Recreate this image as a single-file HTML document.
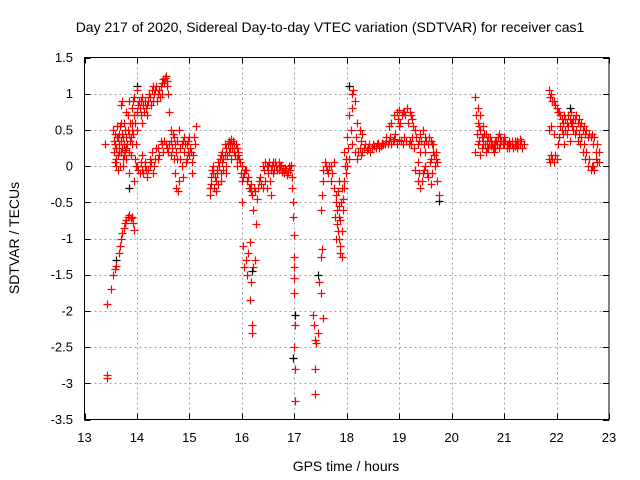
<!DOCTYPE html>
<html><head><meta charset="utf-8"><style>
html,body{margin:0;padding:0;background:#fff;}
svg{display:block;font-family:"Liberation Sans",sans-serif;}
</style></head><body>
<svg id="chart" width="640" height="480" viewBox="0 0 640 480">
<text x="330" y="32" text-anchor="middle" font-size="14">Day 217 of 2020, Sidereal Day-to-day VTEC variation (SDTVAR) for receiver cas1</text>
<g id="grid"></g>
<g id="ticks"></g>
<g id="marks"></g>
<rect x="84.5" y="57.5" width="524.5" height="362" fill="none" stroke="#000" stroke-width="1"/>
<text x="346" y="471" text-anchor="middle" font-size="14">GPS time / hours</text>
<text transform="translate(19,238) rotate(-90)" text-anchor="middle" font-size="14">SDTVAR / TECUs</text>
</svg>
<script>
const xTicks = [13,14,15,16,17,18,19,20,21,22,23];
const yTicks = [1.5,1,0.5,0,-0.5,-1,-1.5,-2,-2.5,-3,-3.5];
const yTickLabels = ["1.5","1","0.5","0","-0.5","-1","-1.5","-2","-2.5","-3","-3.5"];
const redPoints = [
[13.4,0.3],[13.42,-1.9],[13.42,-2.88],[13.43,-2.92],
[13.5,-1.7],[13.55,-1.5],[13.58,-1.42],[13.6,-1.38],[13.65,-1.2],[13.68,-1.1],[13.7,-1.0],[13.72,-0.92],[13.75,-0.85],[13.78,-0.78],[13.8,-0.75],[13.83,-0.7],[13.85,-0.68],[13.88,-0.72],[13.9,-0.7],[13.93,-0.78],[13.95,-0.88],
[13.55,0.5],[13.58,0.3],[13.6,0.1],[13.62,0.4],[13.65,0.2],[13.68,0.0],[13.7,0.6],[13.72,0.9],[13.75,0.3],[13.78,0.5],[13.8,0.1],[13.82,0.7],[13.85,0.2],[13.88,0.4],[13.9,0.8],[13.92,0.9],[13.95,-0.2],[13.98,0.3],[14.0,0.5],[13.6,0.0],[13.65,0.45],[13.7,0.35],[13.75,0.15],[13.8,0.4],[13.85,-0.1],[13.9,0.6],[13.95,0.95],[13.7,0.85],[13.72,0.25],[13.85,0.9],[13.9,0.3],[13.6,0.25],[13.67,0.55],[13.77,0.22],[13.83,0.5],[13.93,0.45],[13.63,-0.05],[13.57,0.35],
[13.56,0.2],[13.59,0.45],[13.61,0.25],[13.63,0.15],[13.64,0.4],[13.66,0.3],[13.69,0.2],[13.71,0.45],[13.73,0.1],[13.74,0.4],[13.76,0.6],[13.79,0.25],[13.81,0.3],[13.84,0.45],[13.86,0.35],[13.87,0.6],[13.89,0.15],[13.91,0.5],[13.94,0.7],[13.96,0.1],[13.97,0.6],[13.99,0.0],[13.62,0.55],[13.74,0.0],[13.79,0.75],[13.58,0.05],
[14.0,0.75],[14.05,0.8],[14.1,0.95],[14.15,0.9],[14.2,0.85],[14.25,0.95],[14.3,1.1],[14.35,1.05],[14.4,1.0],[14.45,1.1],[14.5,1.2],[14.55,1.25],[14.6,1.0],[14.62,0.75],[14.65,0.5],[14.0,1.05],[14.3,0.9],[14.2,0.7],[14.1,0.6],[14.03,0.9],[14.13,0.75],[14.23,1.0],[14.38,0.9],[14.48,1.15],[14.58,1.1],
[14.02,0.85],[14.07,0.7],[14.08,0.9],[14.12,0.85],[14.17,0.8],[14.22,0.9],[14.27,0.85],[14.28,1.05],[14.32,1.0],[14.37,1.1],[14.42,1.05],[14.43,0.95],[14.47,1.0],[14.52,1.15],[14.53,1.22],[14.57,1.18],
[14.0,0.0],[14.05,-0.1],[14.1,-0.05],[14.15,0.05],[14.2,-0.15],[14.25,0.0],[14.3,-0.1],[14.35,0.1],[14.4,0.25],[14.45,0.35],[14.5,0.2],[14.1,0.15],[14.25,0.1],[14.18,-0.05],[14.33,0.0],[14.42,0.15],
[14.02,-0.05],[14.07,0.05],[14.12,-0.1],[14.16,0.0],[14.22,-0.05],[14.27,0.05],[14.29,0.2],[14.37,0.25],[14.4,0.1],[14.47,0.3],
[14.55,0.3],[14.6,0.2],[14.65,0.35],[14.7,0.1],[14.75,-0.3],[14.78,-0.35],[14.8,-0.2],[14.85,0.0],[14.9,0.2],[14.95,0.3],[15.0,0.15],[15.05,0.05],[15.1,0.3],[15.12,0.55],[15.0,0.4],[14.9,0.4],[14.7,0.4],[14.8,0.5],[15.05,-0.1],[14.65,0.15],[14.85,0.3],[14.75,0.2],[14.95,0.1],[15.02,0.25],[14.88,-0.15],
[14.52,0.35],[14.57,0.25],[14.62,0.3],[14.67,0.25],[14.72,0.3],[14.73,-0.1],[14.77,0.35],[14.82,0.25],[14.83,0.1],[14.87,0.35],[14.92,0.3],[14.93,0.05],[14.97,0.2],[14.98,0.35],[15.03,0.2],[15.07,0.15],[15.08,0.4],[14.68,0.45],[14.76,0.1],
[15.4,-0.3],[15.45,-0.1],[15.5,-0.2],[15.55,0.05],[15.6,0.15],[15.65,0.1],[15.7,0.25],[15.75,0.35],[15.8,0.38],[15.85,0.3],[15.9,0.25],[15.95,0.1],[16.0,0.0],[16.05,-0.1],[16.1,-0.2],[16.15,-0.3],[16.2,-0.4],[16.25,-0.35],[16.3,-0.3],[16.35,-0.15],[16.4,-0.3],[15.4,-0.4],[15.5,-0.35],[15.6,-0.1],[15.7,0.0],[15.8,0.1],[15.9,0.0],[16.0,-0.2],[15.45,0.0],[15.55,-0.25],[15.65,-0.05],[15.75,0.2],[15.85,0.2],[15.42,-0.15],[15.52,-0.05],[15.62,0.05],[15.72,0.15],[15.82,0.25],[15.92,0.15],[16.08,-0.05],[16.18,-0.25],[16.28,-0.45],
[15.41,-0.25],[15.43,-0.05],[15.47,-0.3],[15.48,-0.15],[15.53,-0.1],[15.57,0.0],[15.58,0.1],[15.63,0.2],[15.67,0.15],[15.68,0.3],[15.73,0.3],[15.77,0.25],[15.78,0.32],[15.83,0.35],[15.87,0.15],[15.88,0.3],[15.93,0.2],[15.97,0.05],[15.98,-0.1],[16.03,-0.15],[16.06,-0.05],[16.12,-0.15],[16.13,-0.3],[16.17,-0.35],[16.23,-0.3],[16.32,-0.2],[16.37,-0.25],[15.6,-0.2],[15.7,-0.1],[15.9,0.1],
[16.0,-0.5],[16.02,-1.1],[16.05,-1.4],[16.07,-1.3],[16.1,-1.5],[16.12,-1.2],[16.15,-1.05],[16.17,-1.6],[16.15,-1.85],[16.2,-2.2],[16.2,-2.3],[16.22,-1.4],[16.25,-1.3],[16.27,-0.8],[16.22,-0.6],
[16.4,0.0],[16.45,0.05],[16.5,0.0],[16.55,-0.05],[16.6,0.05],[16.65,0.0],[16.7,-0.05],[16.75,0.02],[16.8,-0.1],[16.85,-0.05],[16.9,0.0],[16.95,-0.15],[16.5,-0.1],[16.6,-0.1],[16.7,0.05],[16.55,-0.4],[16.45,-0.2],[16.62,-0.05],[16.78,-0.05],[16.88,-0.08],
[16.42,-0.05],[16.47,0.0],[16.52,0.05],[16.57,0.02],[16.63,0.05],[16.67,-0.05],[16.72,0.0],[16.77,-0.08],[16.82,-0.02],[16.87,-0.12],[16.92,-0.05],[16.93,0.02],[16.48,-0.3],[16.53,-0.2],
[16.95,-0.3],[16.97,-0.5],[17.0,-0.95],[17.0,-1.4],[17.0,-1.55],[17.0,-1.75],[17.02,-2.2],[17.0,-2.5],[17.02,-2.8],[17.02,-3.25],[16.98,-0.7],[17.0,-1.25],
[17.35,-2.05],[17.38,-2.2],[17.4,-2.4],[17.42,-2.45],[17.45,-2.3],[17.4,-2.8],[17.4,-3.15],[17.5,-1.75],[17.48,-1.6],[17.5,-1.25],[17.52,-1.15],[17.55,-2.1],[17.5,-0.6],[17.52,-0.4],[17.55,-0.05],[17.58,0.05],[17.55,-0.2],
[17.6,0.0],[17.65,-0.1],[17.7,-0.2],[17.75,0.05],[17.8,-0.5],[17.82,-0.8],[17.85,-1.0],[17.88,-1.2],[17.9,-0.9],[17.92,-0.6],[17.95,-0.3],[17.98,-0.1],[17.78,-0.7],[17.8,-1.0],[17.85,-0.55],[17.9,-1.25],[17.7,0.0],[17.85,-0.2],[17.95,0.2],[17.83,-0.35],[17.88,-0.75],[17.93,-0.45],
[17.62,-0.05],[17.67,0.0],[17.72,-0.1],[17.76,-0.3],[17.79,-0.4],[17.81,-0.6],[17.84,-0.9],[17.86,-0.7],[17.87,-1.1],[17.89,-0.5],[17.91,-0.3],[17.94,-0.2],[17.96,0.0],[17.99,0.1],
[18.0,0.4],[18.05,0.7],[18.1,1.0],[18.12,1.05],[18.15,0.9],[18.1,0.8],[18.2,0.6],[18.25,0.5],[18.3,0.45],[18.05,0.1],[18.1,0.3],[18.15,0.2],[18.0,0.0],[18.02,0.25],[18.08,0.5],[18.18,0.4],
[18.3,0.2],[18.4,0.25],[18.5,0.3],[18.6,0.32],[18.7,0.3],[18.8,0.35],[18.9,0.38],[19.0,0.36],[18.35,0.3],[18.45,0.2],[18.55,0.25],[18.65,0.28],[18.75,0.35],[18.85,0.3],[18.95,0.3],[18.2,0.1],[18.25,0.25],
[18.22,0.2],[18.27,0.15],[18.28,0.35],[18.32,0.25],[18.38,0.22],[18.42,0.3],[18.48,0.25],[18.52,0.28],[18.58,0.3],[18.62,0.25],[18.68,0.32],[18.72,0.3],[18.78,0.3],[18.82,0.4],[18.88,0.35],[18.92,0.45],
[18.75,0.4],[18.8,0.55],[18.85,0.6],[18.9,0.7],[18.95,0.75],[19.0,0.78],[19.05,0.7],[19.1,0.75],[19.15,0.8],[19.2,0.75],[19.25,0.65],[19.3,0.5],[19.35,0.3],[19.4,0.2],[19.1,0.4],[19.2,0.35],[19.0,0.55],[19.25,0.4],
[18.97,0.65],[19.02,0.6],[19.07,0.75],[19.12,0.7],[19.17,0.6],[19.22,0.7],[19.27,0.55],[19.32,0.4],[19.37,0.35],[19.03,0.35],[19.08,0.3],[19.13,0.35],[19.18,0.3],[19.23,0.3],[19.28,0.25],
[19.4,0.45],[19.45,0.5],[19.5,0.4],[19.55,0.3],[19.6,0.35],[19.65,0.2],[19.7,0.1],[19.72,-0.2],[19.75,-0.4],[19.3,-0.05],[19.35,-0.2],[19.4,-0.3],[19.45,-0.1],[19.5,0.0],[19.55,-0.15],[19.6,-0.25],[19.65,0.3],[19.7,0.2],[19.35,0.05],[19.5,0.2],[19.6,0.1],
[19.42,0.35],[19.47,0.3],[19.52,0.35],[19.57,0.4],[19.62,0.3],[19.67,0.15],[19.38,-0.1],[19.43,-0.2],[19.48,-0.05],[19.53,-0.1],[19.58,0.05],[19.63,-0.1],[19.68,0.0],[19.73,0.05],
[20.45,0.95],[20.5,0.8],[20.5,0.6],[20.55,0.5],[20.6,0.55],[20.65,0.45],[20.7,0.4],[20.75,0.35],[20.8,0.3],[20.85,0.35],[20.9,0.45],[20.95,0.35],[21.0,0.3],[21.05,0.3],[21.1,0.25],[21.15,0.3],[21.2,0.28],[21.25,0.35],[21.3,0.3],[21.35,0.25],[20.45,0.2],[20.5,0.3],[20.55,0.15],[20.6,0.3],[20.65,0.2],[20.7,0.25],[20.8,0.2],[20.9,0.25],[21.0,0.4],[21.2,0.35],[20.55,0.7],[20.6,0.4],[20.48,0.45],[20.75,0.28],[21.1,0.35],[21.3,0.38],
[20.47,0.7],[20.52,0.55],[20.53,0.35],[20.57,0.4],[20.58,0.25],[20.62,0.45],[20.63,0.3],[20.67,0.35],[20.68,0.25],[20.72,0.3],[20.73,0.4],[20.77,0.3],[20.78,0.25],[20.82,0.35],[20.83,0.25],[20.87,0.3],[20.88,0.4],[20.92,0.3],[20.93,0.4],[20.97,0.3],[20.98,0.35],[21.02,0.35],[21.07,0.3],[21.12,0.3],[21.17,0.25],[21.22,0.3],[21.27,0.3],[21.32,0.35],[21.37,0.3],[21.05,0.25],[21.15,0.35],[21.25,0.25],
[21.85,1.05],[21.9,1.0],[21.95,0.9],[22.0,0.8],[22.05,0.75],[22.1,0.65],[22.15,0.7],[22.2,0.6],[22.25,0.65],[22.3,0.55],[22.35,0.45],[22.4,0.35],[22.45,0.3],[22.5,0.2],[22.55,0.1],[22.6,0.0],[22.65,-0.05],[22.7,0.0],[22.75,0.1],[22.8,0.05],[21.85,0.1],[21.9,0.15],[21.95,0.05],[22.0,0.1],[22.05,0.4],[22.1,0.5],[22.2,0.45],[22.3,0.6],[22.35,0.65],[22.4,0.6],[22.45,0.55],[22.5,0.5],[22.55,0.45],[22.6,0.4],[22.65,0.4],[22.7,0.3],[22.75,0.2],[21.85,0.5],[22.15,0.3],[22.25,0.35],
[21.87,0.95],[21.92,0.9],[21.97,0.85],[22.02,0.75],[22.07,0.7],[22.12,0.6],[22.17,0.65],[22.22,0.55],[22.27,0.6],[22.32,0.5],[22.37,0.5],[22.42,0.45],[22.47,0.4],[22.52,0.3],[22.57,0.2],[22.62,0.1],[22.67,0.0],[22.72,-0.05],[22.77,0.05],[21.87,0.05],[21.92,0.1],[21.97,0.15],[22.02,0.3],[22.07,0.55],[22.12,0.45],[22.17,0.5],[22.22,0.7],[22.27,0.75],[22.32,0.65],[22.37,0.7],[22.42,0.65],[22.47,0.6],[22.52,0.55],[22.57,0.5],[22.62,0.45],[22.67,0.45],[22.72,0.4],[22.77,0.3],[22.8,0.2],[21.9,0.55],[21.95,0.45]
];
const blackPoints = [[13.85,-0.3],[14.0,1.1],[18.05,1.1],[19.75,-0.48],[16.98,-2.65],[17.02,-2.05],[17.45,-1.5],[22.25,0.8],[16.2,-1.45],[13.6,-1.3]];

const X0=84.5,X1=609,Y0=57.5,Y1=419.5;
const xMin=13,xMax=23,yMin=-3.5,yMax=1.5;
function xs(v){return X0+(v-xMin)/(xMax-xMin)*(X1-X0);}
function ys(v){return Y1-(v-yMin)/(yMax-yMin)*(Y1-Y0);}
const NS="http://www.w3.org/2000/svg";
const grid=document.getElementById('grid'),ticks=document.getElementById('ticks'),marks=document.getElementById('marks');
function mk(tag,attrs,parent){const e=document.createElementNS(NS,tag);for(const k in attrs)e.setAttribute(k,attrs[k]);parent.appendChild(e);return e;}
xTicks.forEach((t,i)=>{
  const x=Math.round(xs(t))+0.5;
  if(i>0&&i<xTicks.length-1){
    const g=mk('line',{x1:x,x2:x,y1:Y0,y2:Y1,stroke:'#a0a0a0','stroke-dasharray':'2,3'},grid);
    
    
  }
  const a=mk('line',{x1:x,x2:x,y1:Y1,y2:Y1-6,stroke:'#000'},ticks);
  
  
  const b=mk('line',{x1:x,x2:x,y1:Y0,y2:Y0+6,stroke:'#000'},ticks);
  
  
  const l=mk('text',{x:xs(t),y:442,'text-anchor':'middle','font-size':'13'},ticks);
  l.textContent=String(t);
  
  
});
yTicks.forEach((t,i)=>{
  const y=Math.round(ys(t))+0.5;
  if(i>0&&i<yTicks.length-1){
    const g=mk('line',{x1:X0,x2:X1,y1:y,y2:y,stroke:'#a0a0a0','stroke-dasharray':'2,3'},grid);
    
    
  }
  const a=mk('line',{x1:X0,x2:X0+6,y1:y,y2:y,stroke:'#000'},ticks);
  
  
  const b=mk('line',{x1:X1,x2:X1-6,y1:y,y2:y,stroke:'#000'},ticks);
  
  
  const l=mk('text',{x:73,y:ys(t)+4.5,'text-anchor':'end','font-size':'13'},ticks);
  l.textContent=yTickLabels[i];
  
  
});
function plus(p,color,name){
  const x=Math.round(xs(p[0]))+0.5,y=Math.round(ys(p[1]))+0.5;
  const e=mk('path',{d:`M${x-4} ${y}H${x+4}M${x} ${y-4}V${y+4}`,stroke:color,'stroke-width':'1.2',fill:'none'},marks);
  
  
}
blackPoints.forEach(p=>plus(p,'#000','black-point'));
redPoints.forEach(p=>plus(p,'#ff0000','red-point'));
</script>
</body></html>
